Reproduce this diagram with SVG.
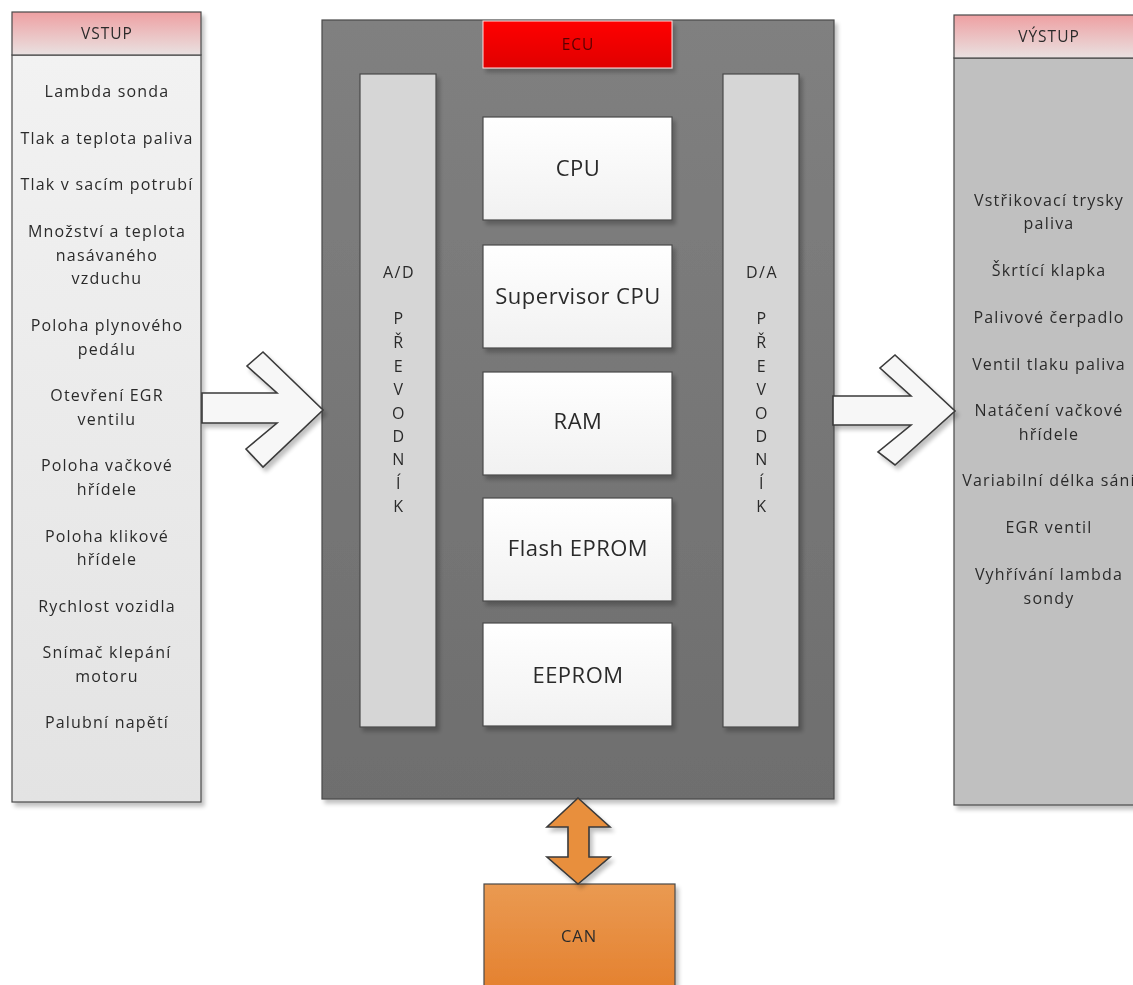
<svg xmlns="http://www.w3.org/2000/svg" width="1133" height="985" viewBox="0 0 1133 985">
  <style>
    .t { font-family: "Open Sans", "Noto Sans", sans-serif; fill: #2b2b2b; text-anchor: middle; }
    .item { font-size: 16px; letter-spacing: 1.2px; }
    .hdr { font-size: 15.5px; letter-spacing: 1px; }
    .big { font-size: 22px; letter-spacing: 0.5px; }
    .vert { font-size: 16px; letter-spacing: 1.5px; }
    .box { stroke: #4a4a4a; stroke-width: 1.2; }
    .arrow { fill: #f7f7f7; stroke: #3a3a3a; stroke-width: 1.6; stroke-linejoin: miter; }
  </style>
  <defs>
    <filter id="shadow" x="-10%" y="-10%" width="130%" height="130%">
      <feGaussianBlur in="SourceAlpha" stdDeviation="2"/>
      <feOffset dx="3" dy="4"/>
      <feComponentTransfer><feFuncA type="linear" slope="0.25"/></feComponentTransfer>
      <feMerge><feMergeNode/><feMergeNode in="SourceGraphic"/></feMerge>
    </filter>
    <linearGradient id="hdrGrad" x1="0" y1="0" x2="0" y2="1">
      <stop offset="0" stop-color="#eea0a2"/>
      <stop offset="1" stop-color="#e9e1e1"/>
    </linearGradient>
    <linearGradient id="inGrad" x1="0" y1="0" x2="0" y2="1">
      <stop offset="0" stop-color="#f2f2f2"/>
      <stop offset="1" stop-color="#e3e3e3"/>
    </linearGradient>
    <linearGradient id="ecuGrad" x1="0" y1="0" x2="0" y2="1">
      <stop offset="0" stop-color="#808080"/>
      <stop offset="1" stop-color="#6e6e6e"/>
    </linearGradient>
    <linearGradient id="redGrad" x1="0" y1="0" x2="0" y2="1">
      <stop offset="0" stop-color="#ff0000"/>
      <stop offset="1" stop-color="#e00000"/>
    </linearGradient>
    <linearGradient id="memGrad" x1="0" y1="0" x2="0" y2="1">
      <stop offset="0" stop-color="#ffffff"/>
      <stop offset="1" stop-color="#f1f1f1"/>
    </linearGradient>
    <linearGradient id="canGrad" x1="0" y1="0" x2="0" y2="1">
      <stop offset="0" stop-color="#ea9a52"/>
      <stop offset="1" stop-color="#e4802e"/>
    </linearGradient>
  </defs>

  <!-- Inputs -->
  <g id="vstup" filter="url(#shadow)">
    <rect class="box" x="12" y="55" width="189" height="747" fill="url(#inGrad)"/>
    <rect class="box" x="12" y="12" width="189" height="43" fill="url(#hdrGrad)"/>
    <text class="t hdr" x="107" y="39">VSTUP</text>
    <text class="t item" x="107" y="97">Lambda sonda</text>
    <text class="t item" x="107" y="144">Tlak a teplota paliva</text>
    <text class="t item" x="107" y="190">Tlak v sacím potrubí</text>
    <text class="t item" x="107" y="237">Množství a teplota</text>
    <text class="t item" x="107" y="261">nasávaného</text>
    <text class="t item" x="107" y="284">vzduchu</text>
    <text class="t item" x="107" y="331">Poloha plynového</text>
    <text class="t item" x="107" y="355">pedálu</text>
    <text class="t item" x="107" y="401">Otevření EGR</text>
    <text class="t item" x="107" y="425">ventilu</text>
    <text class="t item" x="107" y="471">Poloha vačkové</text>
    <text class="t item" x="107" y="495">hřídele</text>
    <text class="t item" x="107" y="542">Poloha klikové</text>
    <text class="t item" x="107" y="565">hřídele</text>
    <text class="t item" x="107" y="612">Rychlost vozidla</text>
    <text class="t item" x="107" y="658">Snímač klepání</text>
    <text class="t item" x="107" y="682">motoru</text>
    <text class="t item" x="107" y="728">Palubní napětí</text>
  </g>

  <!-- ECU housing -->
  <g id="ecu" filter="url(#shadow)">
    <rect class="box" x="322" y="20" width="512" height="779" fill="url(#ecuGrad)"/>
  </g>
  <g id="ecu-label" filter="url(#shadow)">
    <rect x="483" y="21" width="189" height="47" fill="url(#redGrad)" stroke="#ffe0e0" stroke-width="1"/>
    <text class="t hdr" x="578" y="50" style="fill:#5a0000">ECU</text>
  </g>

  <!-- Converters -->
  <g id="ad" filter="url(#shadow)">
    <rect class="box" x="360" y="74" width="76" height="653" fill="#d6d6d6"/>
    <text class="t vert" x="399" y="278">A/D</text>
    <text class="t vert" x="399" y="324">P</text>
    <text class="t vert" x="399" y="348">Ř</text>
    <text class="t vert" x="399" y="372">E</text>
    <text class="t vert" x="399" y="395">V</text>
    <text class="t vert" x="399" y="419">O</text>
    <text class="t vert" x="399" y="442">D</text>
    <text class="t vert" x="399" y="465">N</text>
    <text class="t vert" x="399" y="489">Í</text>
    <text class="t vert" x="399" y="512">K</text>
  </g>
  <g id="da" filter="url(#shadow)">
    <rect class="box" x="723" y="74" width="76" height="653" fill="#d6d6d6"/>
    <text class="t vert" x="762" y="278">D/A</text>
    <text class="t vert" x="762" y="324">P</text>
    <text class="t vert" x="762" y="348">Ř</text>
    <text class="t vert" x="762" y="372">E</text>
    <text class="t vert" x="762" y="395">V</text>
    <text class="t vert" x="762" y="419">O</text>
    <text class="t vert" x="762" y="442">D</text>
    <text class="t vert" x="762" y="465">N</text>
    <text class="t vert" x="762" y="489">Í</text>
    <text class="t vert" x="762" y="512">K</text>
  </g>

  <!-- Processor and memories -->
  <g id="cpu" filter="url(#shadow)">
    <rect class="box" x="483" y="117" width="189" height="103" fill="url(#memGrad)"/>
    <text class="t big" x="578" y="176">CPU</text>
  </g>
  <g id="supervisor" filter="url(#shadow)">
    <rect class="box" x="483" y="245" width="189" height="103" fill="url(#memGrad)"/>
    <text class="t big" x="578" y="304">Supervisor CPU</text>
  </g>
  <g id="ram" filter="url(#shadow)">
    <rect class="box" x="483" y="372" width="189" height="103" fill="url(#memGrad)"/>
    <text class="t big" x="578" y="429">RAM</text>
  </g>
  <g id="flash" filter="url(#shadow)">
    <rect class="box" x="483" y="498" width="189" height="103" fill="url(#memGrad)"/>
    <text class="t big" x="578" y="556">Flash EPROM</text>
  </g>
  <g id="eeprom" filter="url(#shadow)">
    <rect class="box" x="483" y="623" width="189" height="103" fill="url(#memGrad)"/>
    <text class="t big" x="578" y="683">EEPROM</text>
  </g>

  <!-- Outputs -->
  <g id="vystup" filter="url(#shadow)">
    <rect class="box" x="954" y="58" width="190" height="747" fill="#c0c0c0"/>
    <rect class="box" x="954" y="15" width="190" height="43" fill="url(#hdrGrad)"/>
    <text class="t hdr" x="1049" y="42">VÝSTUP</text>
    <text class="t item" x="1049" y="206">Vstřikovací trysky</text>
    <text class="t item" x="1049" y="229">paliva</text>
    <text class="t item" x="1049" y="276">Škrtící klapka</text>
    <text class="t item" x="1049" y="323">Palivové čerpadlo</text>
    <text class="t item" x="1049" y="370">Ventil tlaku paliva</text>
    <text class="t item" x="1049" y="416">Natáčení vačkové</text>
    <text class="t item" x="1049" y="440">hřídele</text>
    <text class="t item" x="1049" y="486">Variabilní délka sání</text>
    <text class="t item" x="1049" y="533">EGR ventil</text>
    <text class="t item" x="1049" y="580">Vyhřívání lambda</text>
    <text class="t item" x="1049" y="604">sondy</text>
  </g>

  <!-- CAN bus -->
  <g id="can" filter="url(#shadow)">
    <rect class="box" x="484" y="884" width="191" height="110" fill="url(#canGrad)"/>
    <text class="t hdr" x="579" y="942" style="font-size:16.5px">CAN</text>
  </g>

  <!-- Connectors -->
  <g id="connectors" filter="url(#shadow)">
    <polygon class="arrow" points="202,393 277,393 247,366 263,352 323,410 263,467 246,449 277,423 202,423"/>
    <polygon class="arrow" points="833,396 911,396 880,368 895,355 955,411 895,465 878,452 911,425 833,425"/>
    <polygon points="578,798 610,827 589,827 589,857 610,857 578,884 547,857 568,857 568,827 547,827" fill="#e88f3e" stroke="#3a3a3a" stroke-width="1.6"/>
  </g>
</svg>
